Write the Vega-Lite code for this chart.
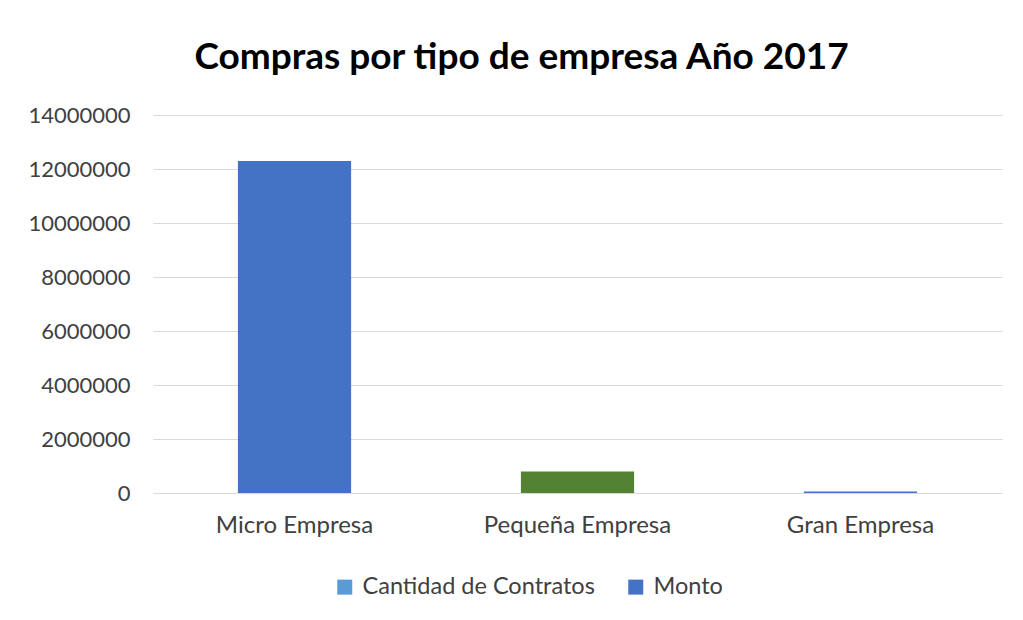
{
  "$schema": "https://vega.github.io/schema/vega-lite/v6.json",
  "autosize": {"type": "none"},
  "padding": {"left": 153, "top": 115, "right": 21, "bottom": 127},
  "width": 849,
  "height": 378,
  "background": "white",
  "title": {
    "text": "Compras por tipo de empresa Año 2017",
    "font": "Lato",
    "fontWeight": "bold",
    "fontSize": 37,
    "color": "#000000",
    "anchor": "middle",
    "frame": "group",
    "dx": -56,
    "offset": 27
  },
  "data": {
    "values": [
      {"categoria": "Micro Empresa", "serie": "Monto", "valor": 12300000},
      {"categoria": "Pequeña Empresa", "serie": "Monto", "valor": 800000},
      {"categoria": "Gran Empresa", "serie": "Monto", "valor": 55000}
    ]
  },
  "mark": {"type": "bar"},
  "encoding": {
    "x": {
      "field": "categoria",
      "type": "nominal",
      "sort": ["Micro Empresa", "Pequeña Empresa", "Gran Empresa"],
      "scale": {"paddingInner": 0.6, "paddingOuter": 0.3},
      "axis": {
        "title": null,
        "labelAngle": 0,
        "domain": false,
        "ticks": false,
        "labelFont": "Lato",
        "labelFontSize": 24,
        "labelLimit": 400,
        "labelColor": "#404040",
        "labelPadding": 20
      }
    },
    "y": {
      "field": "valor",
      "type": "quantitative",
      "scale": {"domain": [0, 14000000], "nice": false},
      "axis": {
        "title": null,
        "values": [0, 2000000, 4000000, 6000000, 8000000, 10000000, 12000000, 14000000],
        "format": "d",
        "domain": false,
        "ticks": false,
        "grid": true,
        "gridColor": "#d9d9d9",
        "gridWidth": 1.2,
        "labelFont": "Lato",
        "labelFontSize": 22,
        "labelColor": "#404040",
        "labelPadding": 23
      }
    },
    "color": {
      "condition": {"test": "datum.categoria === 'Pequeña Empresa'", "value": "#548235"},
      "field": "serie",
      "type": "nominal",
      "scale": {"domain": ["Cantidad de Contratos", "Monto"], "range": ["#5B9BD5", "#4472C4"]},
      "legend": {
        "title": null,
        "orient": "none",
        "direction": "horizontal",
        "legendX": 180,
        "legendY": 460,
        "symbolType": "square",
        "symbolSize": 225,
        "symbolStrokeWidth": 0,
        "labelFont": "Lato",
        "labelFontSize": 23.5,
        "labelLimit": 400,
        "labelColor": "#404040",
        "labelOffset": 6,
        "columnPadding": 29
      }
    }
  },
  "config": {"view": {"stroke": null}}
}
